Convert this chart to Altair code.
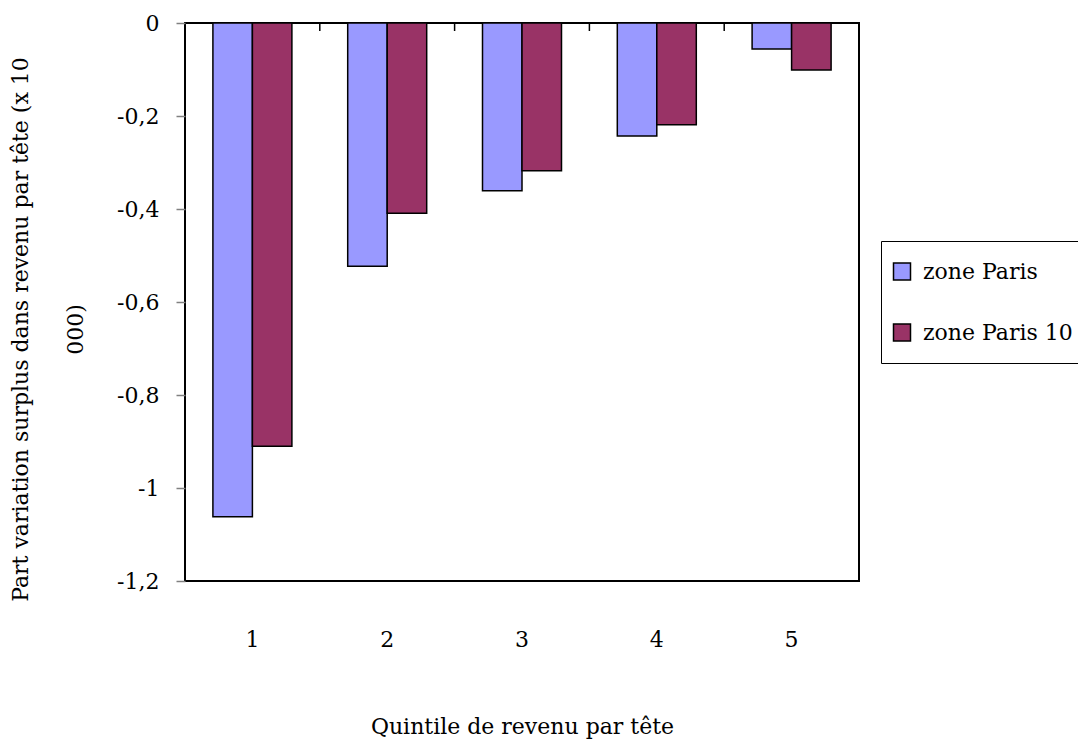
import altair as alt
import pandas as pd

quintiles = ["1", "2", "3", "4", "5"]
series = ["zone Paris", "zone Paris 10"]
zone_paris = [-1.062, -0.523, -0.361, -0.243, -0.056]
zone_paris_10 = [-0.910, -0.409, -0.318, -0.219, -0.101]
colors = ["#9999FF", "#993366"]
y_ticks = [0, -0.2, -0.4, -0.6, -0.8, -1.0, -1.2]

rows = []
for q, a, b in zip(quintiles, zone_paris, zone_paris_10):
    rows.append({"quintile": q, "serie": series[0], "valeur": a})
    rows.append({"quintile": q, "serie": series[1], "valeur": b})
df = pd.DataFrame(rows)

# boundaries between quintile groups (top tick marks)
bounds = pd.DataFrame({"b": list(range(1, len(quintiles)))})

FONT = "DejaVu Serif"
FS = 22

bars = alt.Chart(df).mark_bar(stroke="black", strokeWidth=1.5).encode(
    x=alt.X(
        "quintile:N",
        sort=quintiles,
        scale=alt.Scale(paddingInner=0.414, paddingOuter=0.207),
        axis=alt.Axis(
            title="Quintile de revenu par tête",
            labelAngle=0,
            ticks=False,
            domain=False,
            labelPadding=48,
            labelBaseline="top",
            titleY=135,
            titleBaseline="top",
        ),
    ),
    xOffset=alt.XOffset("serie:N", sort=series),
    y=alt.Y(
        "valeur:Q",
        scale=alt.Scale(domain=[-1.2, 0], nice=False, zero=False),
        axis=alt.Axis(
            values=y_ticks,
            labelExpr="replace(replace(format(datum.value, '~g'), '.', ','), '\u2212', '-')",
            title=["Part variation surplus dans revenu par tête (x 10", "000)"],
            titleLineHeight=55,
            titleAngle=-90,
            titleX=-165,
            titleY=306,
            titleAlign="center",
            titleBaseline="middle",
            grid=False,
            domain=False,
            tickSize=9,
            tickColor="#808080",
            tickWidth=1.5,
            labelPadding=17,
        ),
    ),
    color=alt.Color(
        "serie:N",
        sort=series,
        scale=alt.Scale(domain=series, range=colors),
        legend=alt.Legend(
            title=None,
            orient="none",
            legendX=696,
            legendY=218,
            padding=10,
            strokeColor="black",
            fillColor="white",
            symbolType="square",
            symbolSize=289,
            symbolStrokeColor="black",
            symbolStrokeWidth=1.5,
            symbolOpacity=1,
            labelFont=FONT,
            labelFontSize=FS,
            labelColor="black",
            labelOffset=10,
            clipHeight=41,
            rowPadding=20,
        ),
    ),
)

ticks = alt.Chart(bounds).mark_rule(color="black", strokeWidth=1.5).encode(
    x=alt.X("b:Q", scale=alt.Scale(domain=[0, len(quintiles)], nice=False), axis=None),
    y=alt.value(0),
    y2=alt.value(8),
)

chart = alt.layer(bars, ticks).resolve_scale(x="independent").properties(
    width=674,
    height=558,
    autosize=alt.AutoSizeParams(type="none"),
    padding={"left": 185, "top": 23, "right": 219, "bottom": 161},
    background="white",
).configure_view(
    stroke="black", strokeWidth=2
).configure_axis(
    labelFont=FONT, labelFontSize=FS, labelColor="black",
    titleFont=FONT, titleFontSize=FS, titleColor="black", titleFontWeight="normal",
)

chart.save("out.html", embed_options={"renderer": "svg", "actions": False})
